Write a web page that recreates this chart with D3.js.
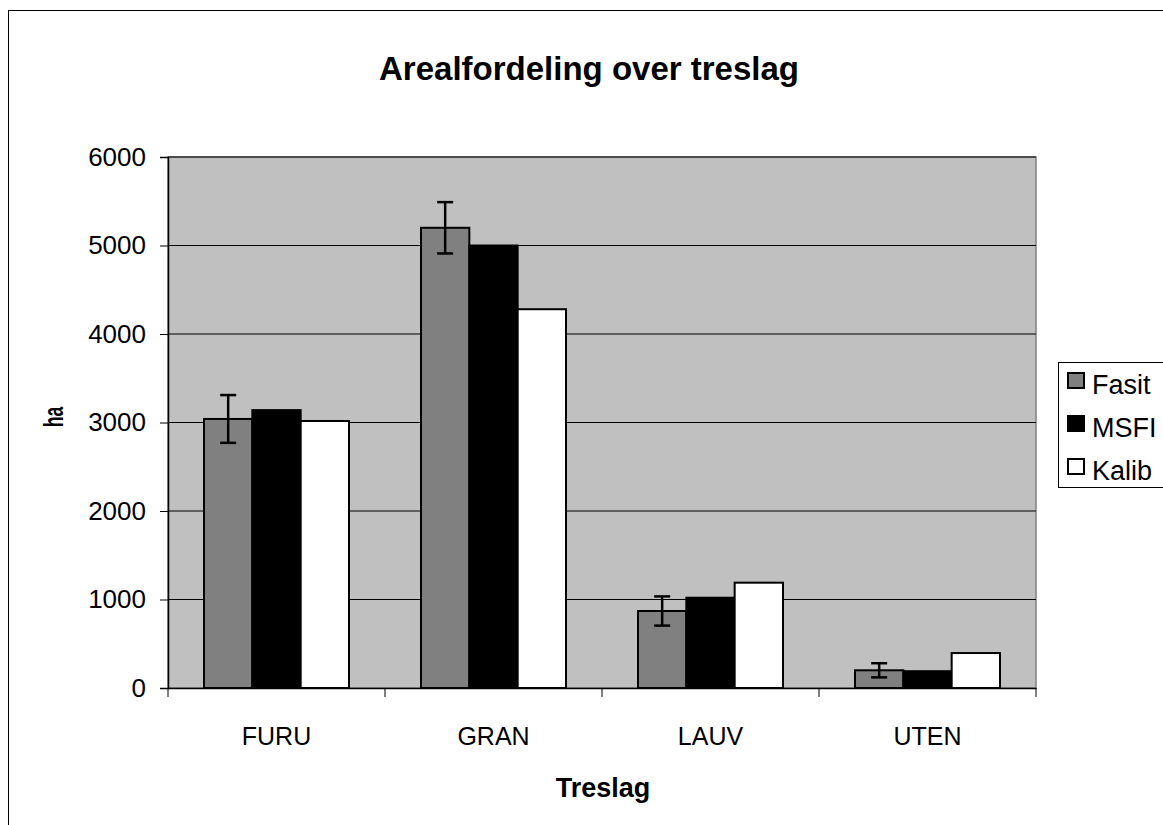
<!DOCTYPE html>
<html><head><meta charset="utf-8">
<script src="https://cdn.jsdelivr.net/npm/d3@7/dist/d3.min.js"></script>
<style>body{margin:0;background:#fff}svg{display:block;font-family:Arial,"Liberation Sans",sans-serif}</style>
</head><body><svg id="c" width="1163" height="825"></svg>
<script>
const categories = ["FURU","GRAN","LAUV","UTEN"];
const seriesNames = ["Fasit","MSFI","Kalib"];
const fasit = [3040, 5200, 870, 200];
const fasitErr = [270, 290, 165, 80];
const msfi = [3140, 5000, 1020, 190];
const kalib = [3017, 4280, 1190, 395];
const yTicks = [0,1000,2000,3000,4000,5000,6000];
const colors = ["#808080","#000000","#ffffff"];

const FF = "Arial,'Liberation Sans',sans-serif";
const svg = d3.select("#c");
const L=168, R=1036, T=157, B=688;
svg.append("rect").attr("x",8.5).attr("y",10.5).attr("width",1170).attr("height",830)
  .attr("fill","#fff").attr("stroke","#000").attr("stroke-width",1);

const x = d3.scaleBand().domain(categories).range([L,R]).paddingInner(0).paddingOuter(0);
const y = d3.scaleLinear().domain([0,6000]).range([B,T]);
const inner = d3.scaleBand().domain(seriesNames).range([36, x.bandwidth()-36]).padding(0);

svg.append("rect").attr("x",L).attr("y",T).attr("width",R-L).attr("height",B-T)
  .attr("fill","#c0c0c0").attr("stroke","#808080").attr("stroke-width",1.5);

svg.append("g").selectAll("line").data(yTicks.filter(d=>d>0)).join("line")
  .attr("x1",L).attr("x2",R).attr("y1",d=>y(d)).attr("y2",d=>y(d))
  .attr("stroke","#000").attr("stroke-width",1);

const ya = svg.append("g").attr("transform",`translate(${L},0)`)
  .call(d3.axisLeft(y).tickValues(yTicks).tickSize(8).tickPadding(14).tickFormat(d3.format("d")));
ya.select(".domain").attr("stroke","#000").attr("stroke-width",1.5);
ya.selectAll("text").attr("font-size",26).attr("fill","#000").attr("font-family",FF);

const xa = svg.append("g").attr("transform",`translate(0,${B})`)
  .call(d3.axisBottom(x).tickSize(0).tickPadding(39));
xa.select(".domain").attr("stroke","#000").attr("stroke-width",1.5);
xa.selectAll("text").attr("font-size",25).attr("fill","#000").attr("font-family",FF);
svg.append("g").selectAll("line").data(d3.range(categories.length+1)).join("line")
  .attr("x1",i=>L+i*x.bandwidth()).attr("x2",i=>L+i*x.bandwidth())
  .attr("y1",B).attr("y2",B+9).attr("stroke","#000").attr("stroke-width",1);

const data = [fasit,msfi,kalib];
data.forEach((vals,si)=>{
  svg.append("g").selectAll("rect").data(vals).join("rect")
    .attr("x",(d,i)=>x(categories[i])+inner(seriesNames[si]))
    .attr("width",inner.bandwidth())
    .attr("y",d=>y(d)).attr("height",d=>B-y(d))
    .attr("fill",colors[si]).attr("stroke","#000").attr("stroke-width",2);
});
const eg = svg.append("g").attr("stroke","#000").attr("stroke-width",2.5);
fasit.forEach((v,i)=>{
  const cx = x(categories[i])+inner("Fasit")+inner.bandwidth()/2;
  eg.append("line").attr("x1",cx).attr("x2",cx).attr("y1",y(v+fasitErr[i])).attr("y2",y(v-fasitErr[i]));
  [v+fasitErr[i], v-fasitErr[i]].forEach(e=>{
    eg.append("line").attr("x1",cx-8).attr("x2",cx+8).attr("y1",y(e)).attr("y2",y(e));
  });
});

svg.append("text").attr("x",589).attr("y",80).attr("text-anchor","middle")
  .attr("font-size",33).attr("font-weight","bold").text("Arealfordeling over treslag");
svg.append("text").attr("x",603).attr("y",797).attr("text-anchor","middle")
  .attr("font-size",27).attr("font-weight","bold").text("Treslag");
svg.append("text").attr("transform","translate(63,417) rotate(-90) scale(0.65,1)").attr("text-anchor","middle")
  .attr("font-size",27).attr("font-weight","bold").text("ha");

const lg = svg.append("g");
lg.append("rect").attr("x",1058.5).attr("y",362.5).attr("width",120).attr("height",125)
  .attr("fill","#fff").attr("stroke","#000").attr("stroke-width",1);
seriesNames.forEach((s,i)=>{
  const yy = 394 + i*43;
  lg.append("rect").attr("x",1068).attr("y",yy-21).attr("width",16).attr("height",15)
    .attr("fill",colors[i]).attr("stroke","#000").attr("stroke-width",2);
  lg.append("text").attr("x",1092).attr("y",yy).attr("font-size",27).text(s);
});
</script></body></html>
